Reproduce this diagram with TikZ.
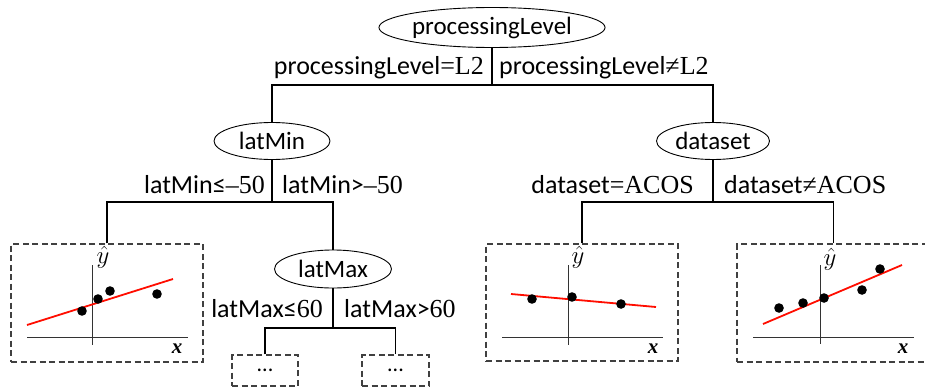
\documentclass[tikz,border=0pt]{standalone}
\usepackage{fontspec}
\setmainfont{Carlito}
\newfontfamily\tms{Liberation Serif}
\usetikzlibrary{shapes.geometric}

\tikzset{
  split/.style={draw, ellipse, line width=0.9pt, inner sep=0pt,
    font=\fontsize{25}{30}\selectfont},
  cond/.style={inner sep=0pt, font=\fontsize{26}{30}\selectfont},
  edge/.style={line width=1.1pt},
  leafbox/.style={draw=black!75, line width=1.1pt, dash pattern=on 6pt off 3.5pt,
    inner sep=0pt, font=\fontsize{22}{26}\selectfont},
  axis/.style={line width=0.9pt, black!80},
  fit/.style={line width=1.8pt, red!90!orange},
  pt/.style={fill=black},
  xlab/.style={inner sep=0pt, font=\fontsize{21}{24}\selectfont\tms\bfseries\itshape},
  ylab/.style={inner sep=0pt, font=\fontsize{24}{28}\selectfont}
}

\begin{document}
\begin{tikzpicture}[x=1pt, y=-1pt]
\useasboundingbox (0,0) rectangle (925,391);

% decision nodes
\node[split, minimum width=201pt, minimum height=40pt] (root) at (492,27.5) {processingLevel};
\node[split, minimum width=116pt, minimum height=37pt] (latMin) at (272,141) {latMin};
\node[split, minimum width=113pt, minimum height=37pt] (dataset) at (713,141) {dataset};
\node[split, minimum width=117pt, minimum height=38pt] (latMax) at (333,269) {latMax};

% leaves
\node[leafbox, minimum width=192pt, minimum height=118pt] (leafA) at (107,303) {};
\node[leafbox, minimum width=192pt, minimum height=117pt] (leafB) at (582,302.5) {};
\node[leafbox, minimum width=193pt, minimum height=118pt] (leafC) at (833.5,303) {};
\node[leafbox, minimum width=66pt, minimum height=31pt] (leafD) at (265,370.5) {...};
\node[leafbox, minimum width=67pt, minimum height=31pt] (leafE) at (395.5,370.5) {...};

% branch junctions
\coordinate (j1) at (492,85);
\coordinate (j2) at (272,202);
\coordinate (j3) at (713,202);
\coordinate (j4) at (333,328);

% connectors
\draw[edge] (root.south) -- (j1);
\draw[edge] (latMin.north) |- (j1) -| (dataset.north);
\draw[edge] (latMin.south) -- (j2);
\draw[edge] (leafA.north) |- (j2) -| (latMax.north);
\draw[edge] (dataset.south) -- (j3);
\draw[edge] (leafB.north) |- (j3) -| (leafC.north);
\draw[edge] (latMax.south) -- (j4);
\draw[edge] (leafD.north) |- (j4) -| (leafE.north);

% branch conditions
\node[cond, anchor=east] (c1) at (484,68) {processingLevel{\tms =L2}};
\node[cond, anchor=west] (c2) at (499,68) {processingLevel{\tms ≠L2}};
\node[cond, anchor=east] (c3) at (265,185) {latMin≤{\tms –50}};
\node[cond, anchor=west] (c4) at (282,185) {latMin>{\tms –50}};
\node[cond, anchor=east] (c5) at (694,185) {dataset{\tms =ACOS}};
\node[cond, anchor=west] (c6) at (724,185) {dataset{\tms ≠ACOS}};
\node[cond, anchor=east] (c7) at (323,309) {latMax≤{\tms 60}};
\node[cond, anchor=west] (c8) at (344,309) {latMax>{\tms 60}};

% leaf model A
\draw[axis] (27,337) -- (188,337);
\draw[axis] (92,265) -- (92,345);
\node[ylab] (yA) at (103,257) {$\hat{y}$};
\node[xlab] (xA) at (177,349) {x};
\draw[fit] (27,325) -- (173,279);
\foreach \p in {(82,311),(98,299),(110,291),(157,294)} \fill[pt] \p circle (4.8pt);

% leaf model B
\draw[axis] (502,337) -- (663,337);
\draw[axis] (568,265) -- (568,345);
\node[ylab] (yB) at (578,257) {$\hat{y}$};
\node[xlab] (xB) at (653,349) {x};
\draw[fit] (511,294) -- (656,307);
\foreach \p in {(532,299),(572,297),(621,304)} \fill[pt] \p circle (4.8pt);

% leaf model C
\draw[axis] (753,337) -- (914,337);
\draw[axis] (820,265) -- (820,344);
\node[ylab] (yC) at (830,259) {$\hat{y}$};
\node[xlab] (xC) at (903,349) {x};
\draw[fit] (763,324) -- (902,265);
\foreach \p in {(779,308),(803,303),(824,298),(862,290),(880,269)} \fill[pt] \p circle (4.8pt);
\end{tikzpicture}
\end{document}
